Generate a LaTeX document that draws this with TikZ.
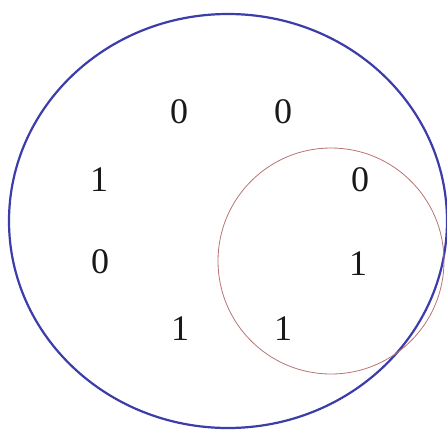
\documentclass[tikz,border=0pt]{standalone}
\usepackage{fontspec}
\setmainfont{Liberation Serif}
\definecolor{bigblue}{RGB}{60,60,170}
\definecolor{smallred}{RGB}{185,115,115}
\begin{document}
\begin{tikzpicture}[x=1pt,y=-1pt,
  digit/.style={font=\fontsize{36}{36}\selectfont, inner sep=0pt, text=black!90}]
\useasboundingbox (0,0) rectangle (447,429);
\draw[bigblue, line width=2.2pt] (228,221) ellipse [x radius=219, y radius=207];
\draw[smallred, line width=0.8pt] (331,261) circle [radius=113];
\node[digit] (a) at (179,112) {0};
\node[digit] (b) at (283,112) {0};
\node[digit] (c) at (99,180) {1};
\node[digit] (d) at (360,180) {0};
\node[digit] (e) at (100,262) {0};
\node[digit] (f) at (358,264) {1};
\node[digit] (g) at (180,329) {1};
\node[digit] (h) at (283,329) {1};
\end{tikzpicture}
\end{document}
